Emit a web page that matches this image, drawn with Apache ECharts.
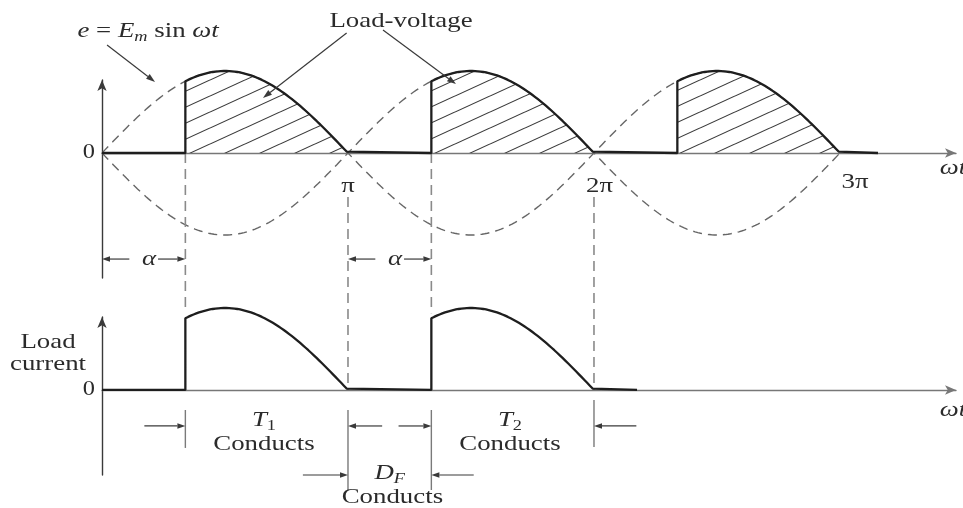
<!DOCTYPE html>
<html>
<head>
<meta charset="utf-8">
<script src="https://cdn.jsdelivr.net/npm/echarts@6/dist/echarts.min.js"></script>
<style>
  html, body { margin: 0; padding: 0; background: #fff; }
  #chart { width: 963px; height: 508px; }
</style>
</head>
<body>
<div id="chart"></div>
<script>
// Single-phase full-wave controlled rectifier with freewheeling diode, resistive load.
// x is ωt in degrees, y is in units of Em.

const firingAngle = [61];             // α, degrees
const supplyHalfCycles = [0, 1, 2];   // half-cycles of the supply drawn (0–π, π–2π, 2π–3π)
const currentHalfCycles = [0, 1];     // half-cycles in which T1 and T2 conduct
const tickValues = [180, 360, 540];
const tickLabels = ['π', '2π', '3π'];
const conductionNames = ['T1', 'T2', 'DF'];
const traceEnds = [567.8, 391.5];     // where the load-voltage / load-current traces stop (degrees)

// ---- styling / layout ----
const FONT = '"Liberation Serif", "Times New Roman", serif';
const INK = '#2b2b2b';
const SX = 1.22;                      // horizontal stretch of the lettering
const tickLabelNudge = [[0, -0.41], [4, -0.40], [11, -0.36]];
const PANEL_OFFSET = 2.89;            // top panel's zero line, in lower-panel units
const X_MAX = 624.9;

const Em = 1;
const e = wt => Em * Math.sin(wt * Math.PI / 180);   // e = Em sin ωt

function samples(a, b, f) {
  const pts = [];
  const n = Math.max(2, Math.ceil(b - a));
  for (let i = 0; i <= n; i++) {
    const t = a + (b - a) * i / n;
    pts.push([t, f(t)]);
  }
  return pts;
}

// Output of the bridge: zero until the thyristor fires at α, then |e| to the end of the half-cycle.
function controlledWave(halfCycles, traceEnd) {
  const a = firingAngle[0];
  const pts = [[0, 0]];
  halfCycles.forEach(n => {
    const s = n * 180;
    pts.push([s + a, 0]);
    samples(s + a, s + 180, t => Math.abs(e(t))).forEach(p => pts.push(p));
  });
  pts.push([traceEnd, 0]);
  return pts;
}

// Diagonal hatch used inside the load-voltage pulses
function makeHatch() {
  const w = 35, h = 16;
  const c = document.createElement('canvas');
  c.width = w; c.height = h;
  const g = c.getContext('2d');
  g.strokeStyle = '#3a3a3a';
  g.lineWidth = 1.1;
  [-h, 0, h].forEach(dy => {
    g.beginPath(); g.moveTo(0, h + dy); g.lineTo(w, dy); g.stroke();
  });
  return c;
}

// ---- drawing helpers for the custom annotation layers ----
function txt(api, x, y, text, o) {
  o = o || {};
  const p = api.coord([x, y]);
  const style = {
    text: text,
    font: (o.italic ? 'italic ' : '') + (o.size || 22) + 'px ' + FONT,
    fill: INK,
    align: o.align || 'center',
    verticalAlign: 'middle'
  };
  if (o.rich) style.rich = o.rich;
  return { type: 'text', x: p[0], y: p[1], scaleX: SX, style: style };
}

function arrow(api, from, to, o) {
  o = o || {};
  const p1 = api.coord(from), p2 = api.coord(to);
  const ang = Math.atan2(p2[1] - p1[1], p2[0] - p1[0]);
  const L = o.head || 9, W = o.half || 3;
  const c = Math.cos(ang), s = Math.sin(ang);
  const bx = p2[0] - L * c, by = p2[1] - L * s;
  const col = o.color || '#3a3a3a';
  return [
    { type: 'line', shape: { x1: p1[0], y1: p1[1], x2: bx, y2: by }, style: { stroke: col, lineWidth: o.width || 1.2 } },
    { type: 'polygon', shape: { points: [[p2[0], p2[1]], [bx + W * s, by - W * c], [bx - W * s, by + W * c]] }, style: { fill: col } }
  ];
}

function seg(api, from, to, o) {
  o = o || {};
  const p1 = api.coord(from), p2 = api.coord(to);
  return {
    type: 'line',
    shape: { x1: p1[0], y1: p1[1], x2: p2[0], y2: p2[1] },
    style: { stroke: o.color || '#8a8a8a', lineWidth: o.width || 1.6, lineDash: o.dash || null }
  };
}

const subRich = {
  i: { font: 'italic 22px ' + FONT, lineHeight: 28, fill: INK },
  r: { font: '22px ' + FONT, lineHeight: 28, fill: INK },
  s: { font: '15px ' + FONT, verticalAlign: 'bottom', fill: INK },
  si: { font: 'italic 15px ' + FONT, verticalAlign: 'bottom', fill: INK }
};

// Upper panel: supply and load voltage
function renderTop(params, api) {
  const a = firingAngle[0];
  const els = [];
  els.push(txt(api, -5.1, 0, '0', { align: 'right', size: 20 }));
  tickValues.forEach((v, i) => {
    els.push(txt(api, v + tickLabelNudge[i][0], tickLabelNudge[i][1], tickLabels[i]));
  });
  els.push(txt(api, 613, -0.18, 'ωt', { italic: true, align: 'left' }));

  els.push(txt(api, 33.7, 1.49, '{i|e}{r| = }{i|E}{si|m}{r| sin }{i|ωt}', { rich: subRich }));
  els.push.apply(els, arrow(api, [3.7, 1.317], [38.8, 0.866]));

  els.push(txt(api, 218.8, 1.61, 'Load-voltage'));
  els.push.apply(els, arrow(api, [179, 1.463], [117.8, 0.671]));
  els.push.apply(els, arrow(api, [205.6, 1.5], [259, 0.84]));

  // firing-delay dimensions
  const yd = -1.293;
  [0, 180].forEach(s => {
    els.push.apply(els, arrow(api, [s + 20, yd], [s, yd], { head: 8, half: 2.8 }));
    els.push.apply(els, arrow(api, [s + a - 20, yd], [s + a, yd], { head: 8, half: 2.8 }));
    els.push(txt(api, s + a / 2 + 4, yd, 'α', { italic: true }));
  });
  return { type: 'group', children: els };
}

// Lower panel: load current and conduction intervals
function renderBottom(params, api) {
  const a = firingAngle[0];
  const sa = Math.abs(e(a));
  const els = [];
  els.push(txt(api, -5.1, 0, '0', { align: 'right', size: 20 }));
  els.push(txt(api, -39.5, 0.585, 'Load'));
  els.push(txt(api, -39.5, 0.317, 'current'));
  els.push(txt(api, 613, -0.244, 'ωt', { italic: true, align: 'left' }));

  // projection lines between the two panels
  const dash = [10, 6];
  els.push(seg(api, [a, PANEL_OFFSET], [a, sa + 0.1], { dash: dash }));
  els.push(seg(api, [180 + a, PANEL_OFFSET], [180 + a, sa + 0.06], { dash: dash }));
  els.push(seg(api, [180, 2.354], [180, 0], { dash: dash }));
  els.push(seg(api, [360, 2.354], [360, 0], { dash: dash }));

  // extension lines for the conduction dimensions
  els.push(seg(api, [a, -0.244], [a, -0.707], { width: 1.4, color: '#7a7a7a' }));
  els.push(seg(api, [180, -0.244], [180, -1.22], { width: 1.4, color: '#7a7a7a' }));
  els.push(seg(api, [180 + a, -0.244], [180 + a, -1.22], { width: 1.4, color: '#7a7a7a' }));
  els.push(seg(api, [360, -0.122], [360, -0.695], { width: 1.6, color: '#8a8a8a' }));

  const ah = { head: 8, half: 2.8 };
  const y1 = -0.439, y2 = -1.037;
  // T1: α … π
  els.push.apply(els, arrow(api, [a - 30, y1], [a, y1], ah));
  els.push.apply(els, arrow(api, [205, y1], [180, y1], ah));
  // T2: π+α … 2π
  els.push.apply(els, arrow(api, [180 + a - 24, y1], [180 + a, y1], ah));
  els.push.apply(els, arrow(api, [391, y1], [360, y1], ah));
  // DF: π … π+α
  els.push.apply(els, arrow(api, [147, y2], [180, y2], ah));
  els.push.apply(els, arrow(api, [180 + a + 31, y2], [180 + a, y2], ah));

  const intervals = [[a, 180], [180 + a, 360], [180, 180 + a]];
  const names = conductionNames.map(n => n[0] === 'D'
    ? '{i|D}{si|F}'
    : '{i|' + n[0] + '}{s|' + n.slice(1) + '}');
  const rows = [[-0.366, -0.659], [-0.366, -0.659], [-1.012, -1.305]];
  intervals.forEach((iv, k) => {
    const mid = (iv[0] + iv[1]) / 2 + (k === 2 ? 0 : -2);
    els.push(txt(api, mid, rows[k][0], names[k], { rich: subRich }));
    els.push(txt(api, mid + (k === 2 ? 2 : 0), rows[k][1], 'Conducts'));
  });
  return { type: 'group', children: els };
}

const hatch = makeHatch();
const axisLineDark = { color: '#3a3a3a', width: 1.4 };
const axisLineGrey = { color: '#777', width: 1.4 };

function xAx(gridIndex) {
  return {
    type: 'value', gridIndex, min: 0, max: X_MAX,
    axisLine: { onZero: true, lineStyle: axisLineGrey, symbol: ['none', 'arrow'], symbolSize: [7, 11] },
    axisTick: { show: false }, axisLabel: { show: false }, splitLine: { show: false }
  };
}
function yAx(gridIndex, min, max) {
  return {
    type: 'value', gridIndex, min, max,
    axisLine: { show: true, onZero: false, lineStyle: axisLineDark, symbol: ['none', 'arrow'], symbolSize: [7, 11] },
    axisTick: { show: false }, axisLabel: { show: false }, splitLine: { show: false }
  };
}

const chart = echarts.init(document.getElementById('chart'), null, { renderer: 'canvas' });
chart.setOption({
  animation: false,
  backgroundColor: '#fff',
  grid: [
    { left: 102, top: 80, width: 854, height: 198 },
    { left: 102, top: 317, width: 854, height: 158 }
  ],
  xAxis: [xAx(0), xAx(1)],
  yAxis: [yAx(0, -1.524, 0.890), yAx(1, -1.037, 0.890)],
  series: [
    { // e = Em sin ωt
      type: 'line', xAxisIndex: 0, yAxisIndex: 0, symbol: 'none', silent: true, z: 2, clip: false,
      data: samples(0, 540, e),
      lineStyle: { color: '#666', width: 1.4, type: [9, 6] }
    },
    { // -e (other half of the centre-tapped secondary)
      type: 'line', xAxisIndex: 0, yAxisIndex: 0, symbol: 'none', silent: true, z: 2, clip: false,
      data: samples(0, 540, t => -e(t)),
      lineStyle: { color: '#666', width: 1.4, type: [9, 6] }
    },
    { // load voltage
      type: 'line', xAxisIndex: 0, yAxisIndex: 0, symbol: 'none', silent: true, z: 4, clip: false,
      data: controlledWave(supplyHalfCycles, traceEnds[0]),
      lineStyle: { color: '#1e1e1e', width: 2.3 },
      areaStyle: { color: { image: hatch, repeat: 'repeat' }, opacity: 1 }
    },
    { // load current
      type: 'line', xAxisIndex: 1, yAxisIndex: 1, symbol: 'none', silent: true, z: 4, clip: false,
      data: controlledWave(currentHalfCycles, traceEnds[1]),
      lineStyle: { color: '#1e1e1e', width: 2.3 }
    },
    {
      type: 'custom', xAxisIndex: 0, yAxisIndex: 0, clip: false, silent: true, z: 5,
      data: [[0, 0]], renderItem: renderTop
    },
    {
      type: 'custom', xAxisIndex: 1, yAxisIndex: 1, clip: false, silent: true, z: 3,
      data: [[0, 0]], renderItem: renderBottom
    }
  ]
});
</script>
</body>
</html>
